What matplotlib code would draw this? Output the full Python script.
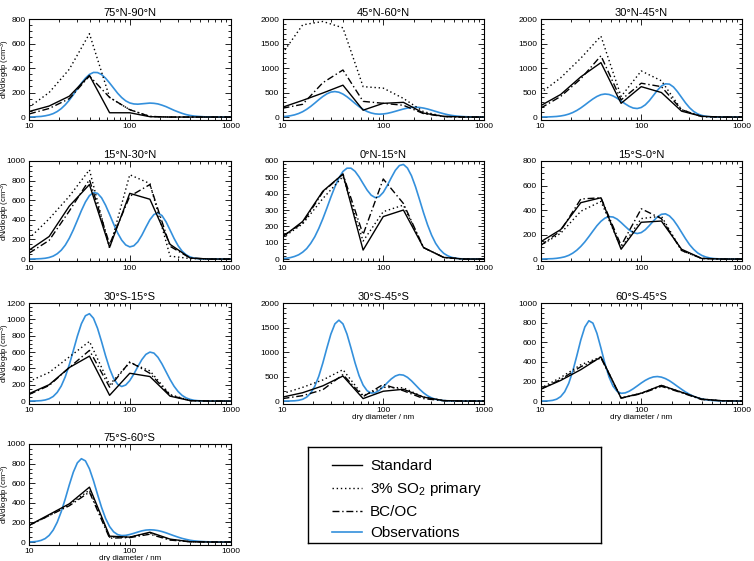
import numpy as np
import matplotlib
matplotlib.use('Agg')
import matplotlib.pyplot as plt
from matplotlib.ticker import AutoMinorLocator, LogLocator, FixedLocator, FuncFormatter, NullFormatter
from matplotlib.lines import Line2D

plt.rcParams['font.family'] = ['Liberation Sans', 'DejaVu Sans']
plt.rcParams['mathtext.fontset'] = 'custom'
plt.rcParams['mathtext.rm'] = 'Liberation Sans'
plt.rcParams['mathtext.default'] = 'regular'

titles = ['75°N-90°N', '45°N-60°N', '30°N-45°N', '15°N-30°N', '0°N-15°N',
          '15°S-0°N', '30°S-15°S', '30°S-45°S', '60°S-45°S', '75°S-60°S']
y_max = [800, 2000, 2000, 1000, 600, 800, 1200, 2000, 1000, 1000]
y_step = [200, 500, 500, 200, 100, 200, 200, 500, 200, 200]

# model size bins (nm)
model_dp = [10, 15.85, 25.12, 39.81, 63.10, 100, 158.5, 251.2, 398.1, 631.0, 1000]

standard = [
    [45, 90, 170, 340, 35, 35, 3, 0, 0, 0, 0],
    [200, 340, 490, 650, 140, 280, 300, 80, 15, 0, 0],
    [230, 460, 820, 1110, 280, 620, 500, 120, 15, 0, 0],
    [90, 230, 540, 760, 120, 670, 610, 150, 10, 0, 0],
    [135, 230, 415, 520, 55, 260, 300, 70, 10, 0, 0],
    [140, 240, 460, 500, 80, 300, 310, 80, 5, 0, 0],
    [90, 200, 410, 550, 70, 340, 300, 60, 5, 0, 0],
    [80, 170, 310, 510, 50, 200, 240, 80, 10, 0, 0],
    [120, 210, 320, 450, 30, 80, 160, 90, 20, 3, 0],
    [170, 280, 390, 560, 60, 50, 100, 30, 3, 0, 0],
]
so2_primary = [
    [80, 200, 390, 680, 160, 60, 5, 0, 0, 0, 0],
    [1300, 1880, 1950, 1820, 620, 590, 380, 110, 10, 0, 0],
    [490, 800, 1200, 1650, 420, 940, 740, 150, 10, 0, 0],
    [210, 410, 640, 910, 110, 860, 770, 30, 5, 0, 0],
    [130, 215, 370, 505, 110, 290, 330, 70, 10, 0, 0],
    [110, 210, 390, 470, 90, 330, 350, 70, 5, 0, 0],
    [240, 350, 540, 730, 200, 470, 370, 80, 5, 0, 0],
    [150, 280, 430, 640, 110, 280, 270, 80, 10, 0, 0],
    [130, 240, 370, 450, 30, 80, 160, 90, 20, 3, 0],
    [170, 270, 380, 530, 50, 50, 90, 25, 3, 0, 0],
]
bcoc = [
    [25, 70, 150, 335, 160, 60, 5, 0, 0, 0, 0],
    [180, 260, 700, 960, 320, 280, 240, 70, 10, 0, 0],
    [180, 420, 780, 1250, 350, 690, 620, 150, 10, 0, 0],
    [60, 190, 490, 810, 150, 640, 760, 130, 10, 0, 0],
    [140, 220, 410, 520, 150, 490, 340, 70, 10, 0, 0],
    [110, 230, 490, 500, 110, 410, 330, 70, 5, 0, 0],
    [80, 190, 410, 620, 170, 480, 340, 70, 5, 0, 0],
    [50, 110, 230, 540, 90, 340, 210, 50, 5, 0, 0],
    [120, 220, 350, 440, 30, 75, 150, 85, 15, 2, 0],
    [170, 270, 370, 510, 40, 45, 80, 20, 3, 0, 0],
]

# observed size distributions, read at 51 log-spaced diameters from 10 to 1000 nm
obs_dp = np.logspace(1, 3, 51)
observations = [
    [1, 1, 3, 5, 10, 17, 28, 45, 69, 100, 138, 182, 230, 276, 317, 348, 364, 363, 347, 317, 278, 236, 194, 159, 132,
     115, 107, 105, 108, 111, 114, 112, 107, 97, 85, 70, 55, 42, 30, 20, 13, 8, 5, 3, 1, 1, 0, 0, 0, 0, 0],
    [8, 15, 27, 45, 72, 109, 158, 217, 284, 354, 419, 473, 509, 520, 506, 469, 414, 348, 278, 213, 157, 113, 83, 65, 59,
     63, 75, 94, 117, 141, 164, 183, 196, 200, 196, 183, 164, 140, 115, 90, 68, 48, 33, 22, 14, 8, 5, 3, 1, 1, 0],
    [1, 2, 3, 7, 12, 22, 37, 60, 92, 134, 186, 246, 309, 369, 420, 456, 470, 461, 431, 385, 328, 270, 219, 184, 174,
     195, 249, 334, 439, 545, 632, 678, 671, 613, 516, 401, 287, 189, 115, 64, 33, 16, 7, 3, 1, 0, 0, 0, 0, 0, 0],
    [0, 1, 2, 4, 8, 16, 30, 54, 90, 142, 212, 298, 395, 494, 582, 647, 678, 670, 625, 549, 455, 357, 266, 193, 144,
     124, 135, 176, 243, 324, 401, 454, 470, 443, 380, 296, 210, 136, 80, 43, 21, 9, 4, 1, 0, 0, 0, 0, 0, 0, 0],
    [3, 5, 9, 16, 26, 42, 64, 96, 136, 187, 246, 311, 379, 442, 496, 536, 556, 556, 537, 503, 462, 422, 391, 376, 382,
     408, 450, 498, 543, 572, 579, 557, 510, 443, 364, 283, 209, 146, 96, 60, 35, 20, 10, 5, 2, 1, 0, 0, 0, 0, 0],
    [0, 1, 2, 3, 6, 11, 18, 30, 48, 72, 103, 140, 183, 228, 272, 308, 334, 346, 343, 326, 298, 267, 237, 216, 208,
     216, 239, 273, 310, 344, 365, 369, 352, 318, 271, 218, 165, 117, 79, 50, 30, 17, 9, 4, 2, 1, 0, 0, 0, 0, 0],
    [0, 1, 2, 5, 13, 28, 56, 106, 184, 297, 445, 618, 794, 946, 1044, 1069, 1013, 891, 728, 554, 397, 277, 204, 178,
     196, 250, 329, 421, 507, 571, 599, 587, 535, 454, 359, 264, 181, 116, 69, 38, 20, 9, 4, 2, 1, 0, 0, 0, 0, 0, 0],
    [0, 1, 2, 5, 15, 36, 80, 162, 300, 505, 774, 1078, 1365, 1574, 1650, 1574, 1366, 1080, 780, 518, 326, 210, 163,
     170, 217, 289, 373, 452, 511, 539, 529, 484, 413, 328, 242, 167, 107, 64, 35, 18, 9, 4, 2, 1, 0, 0, 0, 0, 0, 0, 0],
    [0, 1, 2, 7, 19, 45, 95, 180, 304, 460, 623, 755, 819, 795, 691, 540, 380, 246, 152, 99, 79, 83, 100, 125, 154,
     184, 211, 232, 246, 250, 244, 229, 207, 179, 149, 120, 92, 68, 48, 33, 22, 14, 8, 5, 3, 1, 1, 0, 0, 0, 0],
    [1, 3, 7, 17, 35, 68, 122, 202, 310, 441, 583, 713, 808, 850, 828, 747, 626, 487, 354, 241, 158, 104, 76, 66, 68,
     77, 89, 102, 114, 122, 125, 123, 117, 107, 94, 79, 64, 50, 37, 27, 18, 12, 8, 5, 3, 2, 1, 0, 0, 0, 0],
]

BLUE = '#3490dc'
W, H = 754, 561
col_left = [29, 282.5, 540.5]
col_w = 201.5
row_top = [19, 161, 303, 444]
row_h = 100.5


def rect(l, t, w, h):
    return [l / W, 1 - (t + h) / H, w / W, h / H]


fig = plt.figure(figsize=(W / 100, H / 100), dpi=100)

for i in range(10):
    r, c = divmod(i, 3)
    ax = fig.add_axes(rect(col_left[c], row_top[r], col_w, row_h))
    ax.plot(obs_dp, observations[i], color=BLUE, lw=1.2)
    ax.plot(model_dp, standard[i], color='black', lw=1.0, ls='-')
    ax.plot(model_dp, so2_primary[i], color='black', lw=1.0, ls=(0, (1, 2)))
    ax.plot(model_dp, bcoc[i], color='black', lw=1.0, ls=(0, (5, 2, 1, 2)))
    ax.set_xscale('log')
    ax.set_xlim(10, 1000)
    ax.set_ylim(-0.025 * y_max[i], y_max[i])
    ax.set_yticks(np.arange(0, y_max[i] + 1, y_step[i]))
    ax.yaxis.set_minor_locator(AutoMinorLocator())
    ax.xaxis.set_major_locator(FixedLocator([10, 100, 1000]))
    ax.xaxis.set_major_formatter(FuncFormatter(lambda v, p: f'{v:g}'))
    ax.xaxis.set_minor_locator(LogLocator(subs=np.arange(2, 10)))
    ax.xaxis.set_minor_formatter(NullFormatter())
    ax.tick_params(which='both', direction='in', top=True, right=True, labelsize=6, width=0.6)
    ax.tick_params(which='major', length=4, pad=2.5)
    ax.tick_params(which='minor', length=2)
    for sp in ax.spines.values():
        sp.set_linewidth(0.8)
    ax.set_title(titles[i], fontsize=8, pad=2.5)
    if c == 0:
        ax.set_ylabel('dN/dlogdp (cm$^{-3}$)', fontsize=5.5)
        ax.yaxis.set_label_coords(-0.085, 0.5)
    if i >= 7:
        ax.set_xlabel('dry diameter / nm', fontsize=5.8, labelpad=0)

lax = fig.add_axes(rect(308, 447, 293, 96))
lax.set_xticks([])
lax.set_yticks([])
for sp in lax.spines.values():
    sp.set_linewidth(1.0)
handles = [Line2D([], [], color='black', lw=1.0, ls='-'),
           Line2D([], [], color='black', lw=1.0, ls=(0, (1, 2))),
           Line2D([], [], color='black', lw=1.0, ls=(0, (5, 2, 1, 2))),
           Line2D([], [], color=BLUE, lw=1.2)]
labels = ['Standard', '3% SO$_2$ primary', 'BC/OC', 'Observations']
lax.legend(handles, labels, loc='upper left', bbox_to_anchor=(0.06, 0.94), frameon=False,
           fontsize=11, handlelength=2.0, handletextpad=0.5, labelspacing=0.47, borderpad=0.4,
           borderaxespad=0)

fig.savefig('out.png', dpi=100)
